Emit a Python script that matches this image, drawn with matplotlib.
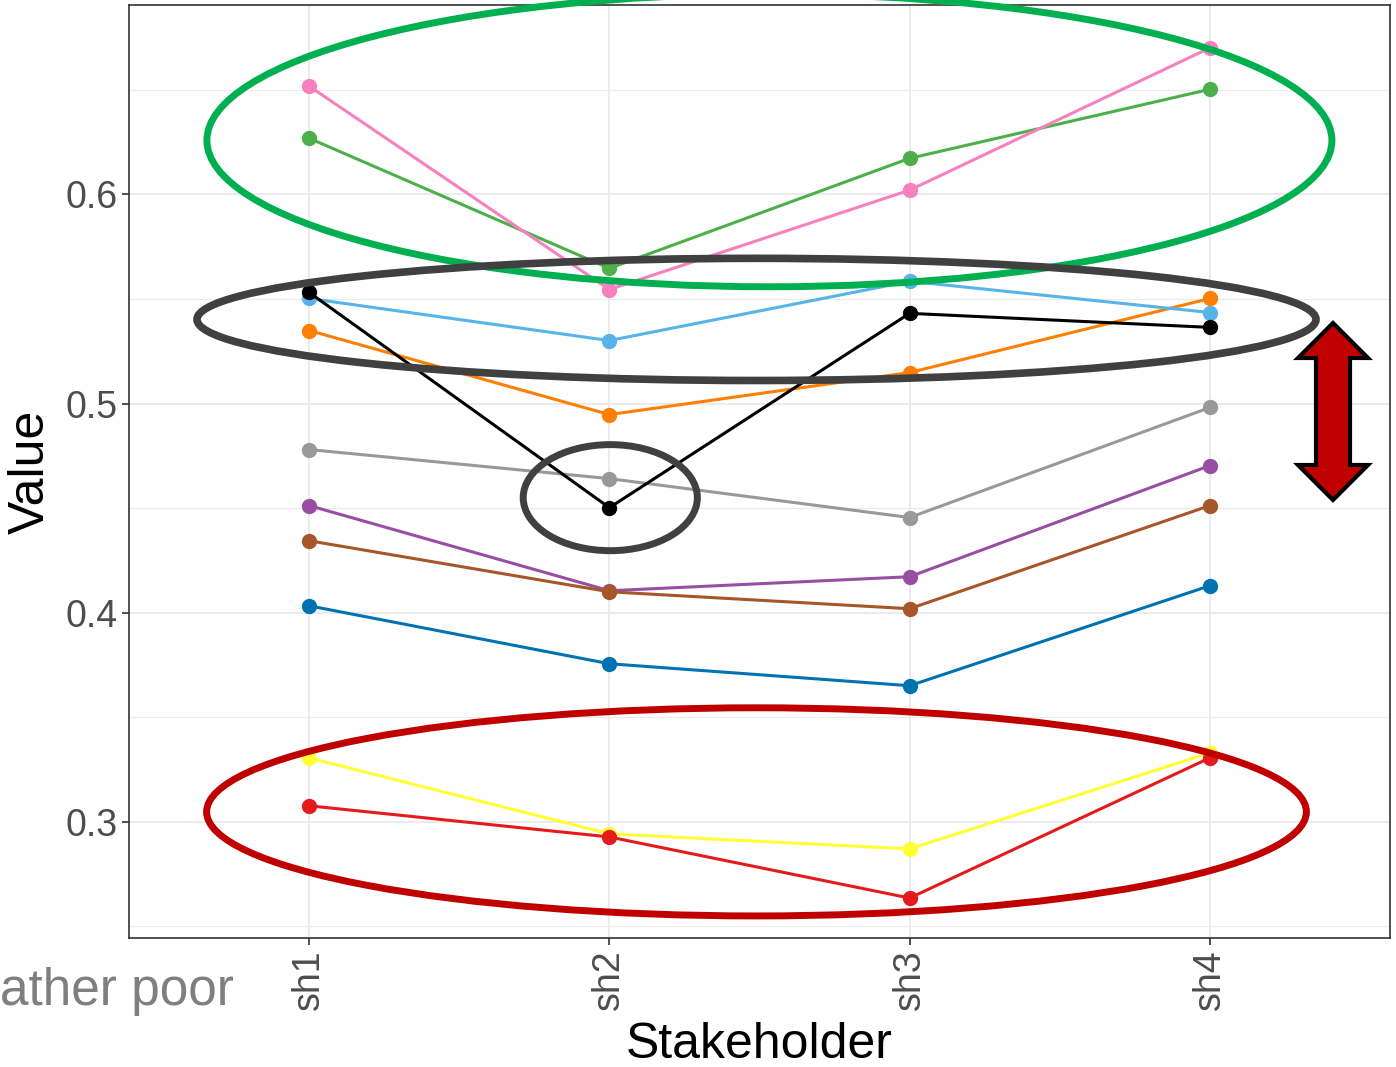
import matplotlib.pyplot as plt
from matplotlib.patches import Ellipse, Polygon

plt.rcParams['font.family'] = ['Liberation Sans', 'DejaVu Sans']

stakeholders = ['sh1', 'sh2', 'sh3', 'sh4']

blue = [0.4033, 0.3756, 0.3651, 0.4129]
orange = [0.5349, 0.4947, 0.5148, 0.5502]
lightblue = [0.5502, 0.5301, 0.5584, 0.5435]
green = [0.6268, 0.5646, 0.6172, 0.6502]
pink = [0.6517, 0.5545, 0.6020, 0.6700]
grey = [0.4780, 0.4641, 0.4455, 0.4981]
purple = [0.4512, 0.4105, 0.4172, 0.4703]
brown = [0.4344, 0.4100, 0.4019, 0.4512]
yellow = [0.3306, 0.2943, 0.2871, 0.3330]
red = [0.3077, 0.2928, 0.2636, 0.3306]
black = [0.5531, 0.4502, 0.5431, 0.5364]

series = [
    (blue, '#0072B2'),
    (orange, '#FF7F00'),
    (lightblue, '#56B4E9'),
    (green, '#4DAF4A'),
    (pink, '#F781BF'),
    (grey, '#999999'),
    (purple, '#984EA3'),
    (brown, '#A65628'),
    (yellow, '#FFFF33'),
    (red, '#E41A1C'),
    (black, '#000000'),
]

W, H = 1396, 1067
fig = plt.figure(figsize=(W / 100, H / 100), dpi=100)
ax = fig.add_axes([129 / W, 1 - 938 / H, (1390 - 129) / W, (938 - 5) / H])

x = list(range(1, len(stakeholders) + 1))
for vals, col in series:
    ax.plot(x, vals, color=col, lw=2.2, marker='o', ms=10, zorder=3)

ax.set_xlim(0.4, 4.6)
ax.set_ylim(0.2445, 0.6905)
ax.set_xticks(x)
ax.set_xticklabels(stakeholders, rotation=90)
ax.set_yticks([0.3, 0.4, 0.5, 0.6])
ax.set_yticks([0.25, 0.35, 0.45, 0.55, 0.65], minor=True)
ax.grid(True, which='major', color='#EBEBEB', lw=1.4, zorder=0)
ax.grid(True, which='minor', color='#EBEBEB', lw=0.8, zorder=0)
ax.tick_params(axis='both', which='major', labelsize=27, labelcolor='#4D4D4D',
               color='#333333', length=5, width=1.2)
ax.tick_params(axis='y', which='minor', length=0)
for s in ax.spines.values():
    s.set_color('#333333')
    s.set_linewidth(1.2)
ax.set_xlabel('Stakeholder', fontsize=36, labelpad=8)
ax.set_ylabel('Value', fontsize=36, labelpad=8)

# highlight ellipses
ax.add_patch(Ellipse((2.533, 0.6258), 3.747, 0.140, fill=False, ec='#00B050',
                     lw=5, clip_on=False, zorder=5))
ax.add_patch(Ellipse((2.49, 0.5402), 3.727, 0.0584, fill=False, ec='#404040',
                     lw=5.5, clip_on=False, zorder=5))
ax.add_patch(Ellipse((2.003, 0.455), 0.58, 0.0507, fill=False, ec='#404040',
                     lw=5, clip_on=False, zorder=5))
ax.add_patch(Ellipse((2.49, 0.3048), 3.663, 0.0995, fill=False, ec='#C00000',
                     lw=5, clip_on=False, zorder=5))

# double arrow (figure pixel coords)
cx = 1333
pts = [(cx, 323), (cx + 35, 358), (cx + 17, 358), (cx + 17, 465), (cx + 35, 465),
       (cx, 500), (cx - 35, 465), (cx - 17, 465), (cx - 17, 358), (cx - 35, 358)]
pts = [(px / W, 1 - py / H) for px, py in pts]
fig.patches.append(Polygon(pts, closed=True, fc='#C00000', ec='black', lw=3,
                           transform=fig.transFigure, zorder=6))

fig.text(0, 1 - 992 / H, 'ather poor', fontsize=37, color='#7F7F7F',
         family=['Liberation Sans Narrow', 'Liberation Sans'], va='center', ha='left')

fig.savefig('out.png', dpi=100)
